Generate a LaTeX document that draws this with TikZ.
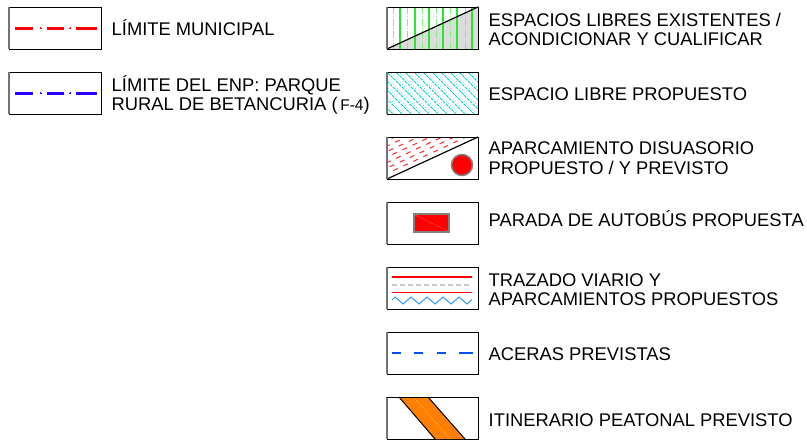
\documentclass[tikz,border=0pt]{standalone}
\usepackage{fontspec}
\setmainfont{Liberation Sans}
\definecolor{limred}{RGB}{255,0,0}
\definecolor{limblue}{RGB}{40,0,255}
\definecolor{grn}{RGB}{40,230,40}
\definecolor{grnl}{RGB}{130,240,130}
\definecolor{grayfill}{RGB}{220,220,220}
\definecolor{cyanl}{RGB}{0,205,205}
\definecolor{redd}{RGB}{255,40,40}
\definecolor{zigblue}{RGB}{51,153,255}
\definecolor{acera}{RGB}{0,80,255}
\definecolor{orng}{RGB}{255,128,0}
\definecolor{lgray}{RGB}{200,200,200}
\begin{document}
\begin{tikzpicture}[x=1pt,y=-1pt,
  legbox/.style={draw=black, line width=1pt},
  leftedge/.style={draw=black!55, line width=1.2pt},
  lbl/.style={anchor=base west, inner sep=0pt, font=\fontsize{18.35}{19.5}\selectfont},
  limline/.style={line width=3pt},
  plusmark/.style={line width=0.6pt}]
\useasboundingbox (0,0) rectangle (807,440);
\fill[white] (0,0) rectangle (807,440);

% ---------- left column ----------
% Limite municipal
\draw[legbox] (9,7) rectangle (101,49);
\draw[leftedge] (9,7) -- (9,49);
\draw[limline, limred] (15,28) -- (33,28) (46.5,28) -- (64,28) (75.5,28) -- (97,28);
\draw[plusmark, limred] (39.5,28) -- (42,28) (40.75,26.75) -- (40.75,29.25)
                         (68.75,28) -- (71.25,28) (70,26.75) -- (70,29.25);
\node[lbl] (t1) at (111.5,35) {LÍMITE MUNICIPAL};

% Limite ENP
\draw[legbox] (9,72) rectangle (101,114);
\draw[leftedge] (9,72) -- (9,114);
\draw[limline, limblue] (15,93) -- (33,93) (46.5,93) -- (64,93) (75.5,93) -- (97,93);
\draw[plusmark, limblue] (39.5,93) -- (42,93) (40.75,91.75) -- (40.75,94.25)
                          (68.75,93) -- (71.25,93) (70,91.75) -- (70,94.25);
\node[lbl] (t2) at (111.5,91) {\begin{tabular}[t]{@{}l@{}}LÍMITE DEL ENP: PARQUE\\RURAL DE BETANCURIA ({\fontsize{15.5}{15.5}\selectfont\,F-4})\end{tabular}};

% ---------- right column ----------
% 1 Espacios libres existentes
\fill[grayfill] (387,49) -- (478,7) -- (478,49) -- cycle;
\begin{scope}
  \clip (387,7) rectangle (478,49);
  \foreach \x in {400,415,429,443,457,472}
    \draw[grn, line width=1.3pt] (\x,7) -- (\x,49);
  \foreach \x in {393,407.5,422,436,450,465}
    \draw[grnl, line width=1pt, dash pattern=on 7pt off 2pt on 1pt off 2pt] (\x,7) -- (\x,49);
\end{scope}
\draw[black, line width=1.2pt] (387,49) -- (478,7);
\draw[legbox] (387,7) rectangle (478,49);
\draw[leftedge] (387,7) -- (387,49);
\node[lbl] (r1) at (488.5,26) {\begin{tabular}[t]{@{}l@{}}ESPACIOS LIBRES EXISTENTES /\\ACONDICIONAR Y CUALIFICAR\end{tabular}};

% 2 Espacio libre propuesto
\begin{scope}
  \clip (387,72) rectangle (478,114);
  \foreach \c in {270,279,...,414}
    \draw[cyanl, line width=0.9pt, dash pattern=on 3pt off 1pt] (\c+67,67) -- (\c+119,119);
  \foreach \c in {273,282,...,417}
    \draw[cyanl!60, line width=0.6pt, dash pattern=on 1pt off 2pt] (\c+67,67) -- (\c+119,119);
\end{scope}
\draw[legbox] (387,72) rectangle (478,114);
\draw[leftedge] (387,72) -- (387,114);
\node[lbl] (r2) at (488.5,100) {ESPACIO LIBRE PROPUESTO};

% 3 Aparcamiento disuasorio
\begin{scope}
  \clip (387,137) -- (478,137) -- (387,179) -- cycle;
  \foreach \k in {1,...,10}
    \draw[redd, line width=1pt, dash pattern=on 5pt off 6pt, dash phase=\k*4pt]
      (387,179-5.5*\k) -- (478,137-5.5*\k);
\end{scope}
\draw[black, line width=1.2pt] (387,179) -- (478,137);
\draw[fill=limred, draw=black!50, line width=1.5pt] (462,165) circle[radius=10.5];
\draw[legbox] (387,137) rectangle (478,179);
\draw[leftedge] (387,137) -- (387,179);
\node[lbl] (r3) at (488.5,154.5) {\begin{tabular}[t]{@{}l@{}}APARCAMIENTO DISUASORIO\\PROPUESTO / Y PREVISTO\end{tabular}};

% 4 Parada de autobus
\draw[legbox] (387,202) rectangle (478,244);
\draw[leftedge] (387,202) -- (387,244);
\draw[fill=limred, draw=black!50, line width=1.5pt] (414,214) rectangle (449,232);
\draw[red!60!white, line width=0.3pt] (415,215) -- (448,231);
\node[lbl] (r4) at (488.5,226.5) {PARADA DE AUTOBÚS PROPUESTA};

% 5 Trazado viario
\draw[legbox] (387,267) rectangle (478,309);
\draw[leftedge] (387,267) -- (387,309);
\draw[limred, line width=1.3pt] (392,277) -- (472,277);
\draw[lgray, line width=1.6pt, dash pattern=on 4.5pt off 3.5pt] (392,285) -- (472,285);
\draw[limred, line width=1.3pt] (392,292.5) -- (472,292.5);
\draw[zigblue, line width=1pt] (392,300) -- (395,297) -- (403,304) -- (411,297) -- (419,304)
  -- (427,297) -- (435,304) -- (443,297) -- (451,304) -- (459,297) -- (467,304) -- (472,299.5);
\node[lbl] (r5) at (488.5,286) {\begin{tabular}[t]{@{}l@{}}TRAZADO VIARIO Y\\APARCAMIENTOS PROPUESTOS\end{tabular}};

% 6 Aceras previstas
\draw[legbox] (387,332) rectangle (478,374);
\draw[leftedge] (387,332) -- (387,374);
\draw[acera, line width=2.2pt] (392,353) -- (401,353) (413.5,353) -- (423,353)
  (436.5,353) -- (446,353) (459,353) -- (473,353);
\node[lbl] (r6) at (488.5,360) {ACERAS PREVISTAS};

% 7 Itinerario peatonal
\draw[legbox] (387,397) rectangle (478,439);
\draw[leftedge] (387,397) -- (387,439);
\fill[orng] (399,397) -- (428,397) -- (465,439) -- (435,439) -- cycle;
\draw[black, line width=1pt] (399,397) -- (435,439) (428,397) -- (465,439);
\draw[white!35!orng, line width=0.3pt] (413.5,397) -- (450,439);
\draw[legbox] (387,397) -- (478,397);
\node[lbl] (r7) at (488.5,426) {ITINERARIO PEATONAL PREVISTO};
\end{tikzpicture}
\end{document}
